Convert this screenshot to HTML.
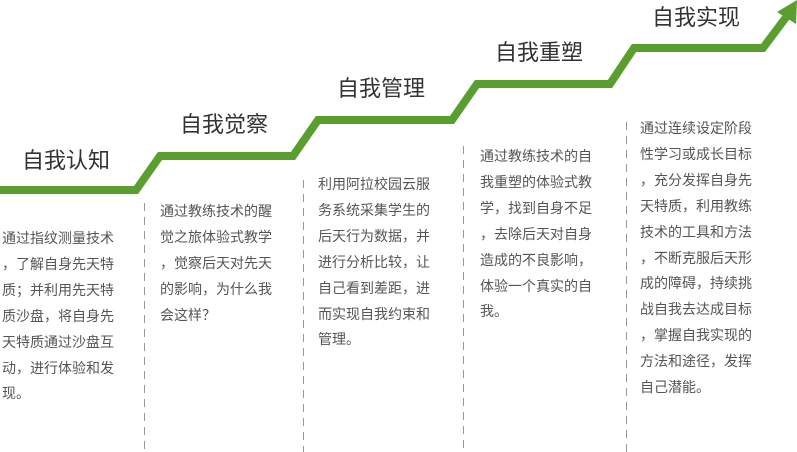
<!DOCTYPE html>
<html><head><meta charset="utf-8"><style>
html,body{margin:0;padding:0;background:#fff;}
body{width:797px;height:452px;position:relative;overflow:hidden;font-family:"Liberation Sans","Noto Sans CJK SC",sans-serif;}
.t{position:absolute;font-size:22px;color:#333;white-space:nowrap;line-height:26px;}
.p{position:absolute;font-size:14px;color:#555;line-height:25.9px;white-space:nowrap;}
</style></head><body>
<svg width="797" height="452" style="position:absolute;left:0;top:0">
<polyline points="0,190 136,190 160,156 293,156 318,120 452,120 477,84 610,84 634,48 763,48 787,16" fill="none" stroke="#5a9e2f" stroke-width="8" stroke-linejoin="miter"/>
<polygon points="797,0 777,12 796,24" fill="#5a9e2f"/>
<g stroke="#999" stroke-width="1" stroke-dasharray="8,6">
<line x1="144.5" y1="203" x2="144.5" y2="452"/>
<line x1="303.5" y1="180" x2="303.5" y2="452"/>
<line x1="463.5" y1="146" x2="463.5" y2="452"/>
<line x1="626.5" y1="122" x2="626.5" y2="452"/>
</g>
</svg>
<div class="t" style="left:22px;top:148px">自我认知</div>
<div class="t" style="left:180px;top:112px">自我觉察</div>
<div class="t" style="left:337px;top:76px">自我管理</div>
<div class="t" style="left:495px;top:40px">自我重塑</div>
<div class="t" style="left:652px;top:5px">自我实现</div>
<div class="p" style="left:2px;top:226px">通过指纹测量技术<br>，了解自身先天特<br>质；并利用先天特<br>质沙盘，将自身先<br>天特质通过沙盘互<br>动，进行体验和发<br>现。</div>
<div class="p" style="left:160px;top:199px">通过教练技术的醒<br>觉之旅体验式教学<br>，觉察后天对先天<br>的影响，为什么我<br>会这样？</div>
<div class="p" style="left:318px;top:172px">利用阿拉校园云服<br>务系统采集学生的<br>后天行为数据，并<br>进行分析比较，让<br>自己看到差距，进<br>而实现自我约束和<br>管理。</div>
<div class="p" style="left:480px;top:144px">通过教练技术的自<br>我重塑的体验式教<br>学，找到自身不足<br>，去除后天对自身<br>造成的不良影响，<br>体验一个真实的自<br>我。</div>
<div class="p" style="left:640px;top:116px">通过连续设定阶段<br>性学习或成长目标<br>，充分发挥自身先<br>天特质，利用教练<br>技术的工具和方法<br>，不断克服后天形<br>成的障碍，持续挑<br>战自我去达成目标<br>，掌握自我实现的<br>方法和途径，发挥<br>自己潜能。</div>
</body></html>
